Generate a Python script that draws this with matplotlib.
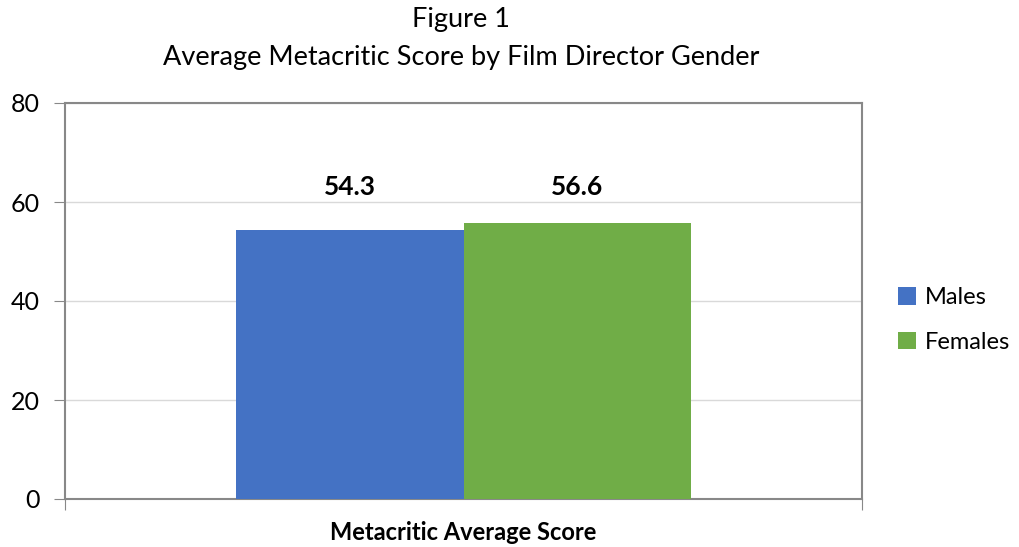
import numpy as np
import matplotlib.pyplot as plt

plt.rcParams['font.family'] = ['Lato', 'DejaVu Sans']

# data
series = ['Males', 'Females']
values = [54.3, 55.8]
value_labels = ['54.3', '56.6']
colors = ['#4472C4', '#70AD47']
yticks = [0, 20, 40, 60, 80]

fig = plt.figure(figsize=(10.19, 5.47), dpi=100)
ax = fig.add_axes([65 / 1019, 48 / 547, 797 / 1019, 396 / 547])

w = 0.285
offsets = [-w / 2, w / 2]
for name, v, lab, c, off in zip(series, values, value_labels, colors, offsets):
    ax.bar(off, v, width=w, color=c, label=name, zorder=3)
    ax.text(off, 63, lab, ha='center', va='center', fontsize=19, fontweight='bold')

ax.set_xlim(-0.5, 0.5)
ax.set_ylim(0, 80)
ax.set_yticks(yticks)
ax.tick_params(axis='y', labelsize=18, length=8, color='#888888', pad=10)
ax.set_xticks([-0.5, 0.5])
ax.set_xticklabels(['', ''])
ax.tick_params(axis='x', length=8, color='#888888')
ax.grid(axis='y', color='#d9d9d9', linewidth=1, zorder=0)
for s in ax.spines.values():
    s.set_color('#888888')
    s.set_linewidth(1.5)

fig.text(463 / 1019, 1 - 532 / 547, 'Metacritic Average Score', ha='center', va='center',
         fontsize=17, fontweight='bold')
fig.text(461 / 1019, 1 - 20 / 547, 'Figure 1', ha='center', va='center', fontsize=19.5)
fig.text(461 / 1019, 1 - 58 / 547, 'Average Metacritic Score by Film Director Gender',
         ha='center', va='center', fontsize=19.5)

ax.legend(loc='center left', bbox_to_anchor=(898 / 1019, 1 - 320 / 547),
          bbox_transform=fig.transFigure, borderaxespad=0, borderpad=0,
          frameon=False, fontsize=17,
          handlelength=0.75, handleheight=0.75, handletextpad=0.4, labelspacing=1.0)

fig.savefig('out.png', dpi=100)
